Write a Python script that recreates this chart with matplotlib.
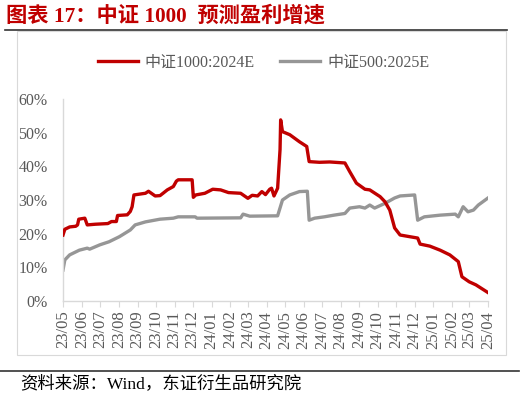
import pandas as pd
import matplotlib
matplotlib.use("Agg")
import matplotlib.pyplot as plt
import matplotlib.dates as mdates
from matplotlib.lines import Line2D
from matplotlib.patches import Rectangle

FONT = ['Liberation Serif', 'Noto Sans CJK SC']

# 中证1000:2024E, growth in %
csi1000_dates = [
    '2023-05-01', '2023-05-04', '2023-05-12', '2023-05-22', '2023-05-25', '2023-05-27',
    '2023-06-06', '2023-06-10', '2023-06-23', '2023-07-14', '2023-07-20', '2023-07-28',
    '2023-07-30', '2023-08-15', '2023-08-20', '2023-08-23', '2023-08-26', '2023-09-14',
    '2023-09-19', '2023-09-30', '2023-10-08', '2023-10-13', '2023-10-20', '2023-10-30',
    '2023-11-04', '2023-11-07', '2023-11-30', '2023-12-02', '2023-12-06', '2023-12-21',
    '2024-01-03', '2024-01-16', '2024-01-29', '2024-02-18', '2024-02-26', '2024-03-01',
    '2024-03-08', '2024-03-17', '2024-03-24', '2024-03-30', '2024-04-06', '2024-04-09',
    '2024-04-13', '2024-04-19', '2024-04-23', '2024-04-24', '2024-04-27', '2024-05-09',
    '2024-05-25', '2024-06-06', '2024-06-10', '2024-06-27', '2024-07-14', '2024-08-08',
    '2024-08-16', '2024-08-27', '2024-09-10', '2024-09-18', '2024-10-05', '2024-10-13',
    '2024-10-21', '2024-10-29', '2024-11-07', '2024-11-23', '2024-12-06', '2024-12-10',
    '2024-12-26', '2025-01-12', '2025-01-28', '2025-02-11', '2025-02-17', '2025-03-01',
    '2025-03-12', '2025-04-01',
]
csi1000_values = [
    19.6, 21.3, 22.0, 22.2, 22.6, 24.3,
    24.6, 22.6, 22.8, 23.0, 23.6, 23.6,
    25.4, 25.6, 26.6, 28.0, 31.5, 32.0,
    32.6, 31.2, 31.3, 32.0, 33.0, 34.0,
    35.6, 36.0, 36.0, 30.8, 31.5, 32.0,
    33.2, 33.0, 32.2, 32.0, 31.0, 30.5,
    31.4, 31.2, 32.5, 31.6, 33.2, 33.5,
    31.2, 33.5, 45.0, 53.8, 50.3, 49.4,
    47.3, 45.9, 41.4, 41.2, 41.3, 41.0,
    38.4, 35.0, 33.2, 33.0, 31.0, 29.5,
    27.0, 21.7, 19.6, 19.1, 18.7, 16.9,
    16.3, 15.1, 13.7, 11.7, 7.2, 5.7,
    4.8, 2.5,
]

# 中证500:2025E, growth in %
csi500_dates = [
    '2023-05-01', '2023-05-04', '2023-05-12', '2023-05-28', '2023-06-10', '2023-06-14',
    '2023-07-01', '2023-07-16', '2023-08-02', '2023-08-20', '2023-08-28', '2023-09-14',
    '2023-10-08', '2023-10-30', '2023-11-07', '2023-12-05', '2023-12-08', '2024-02-18',
    '2024-02-22', '2024-03-04', '2024-04-19', '2024-04-27', '2024-05-09', '2024-05-25',
    '2024-06-07', '2024-06-10', '2024-06-19', '2024-07-05', '2024-07-21', '2024-08-08',
    '2024-08-16', '2024-09-01', '2024-09-10', '2024-09-18', '2024-09-26', '2024-10-13',
    '2024-10-29', '2024-11-07', '2024-12-01', '2024-12-06', '2024-12-17', '2025-01-12',
    '2025-02-06', '2025-02-11', '2025-02-19', '2025-02-27', '2025-03-08', '2025-03-16',
    '2025-04-01',
]
csi500_values = [
    9.2, 12.2, 13.7, 15.1, 15.7, 15.4,
    16.7, 17.6, 19.1, 21.1, 22.6, 23.5,
    24.3, 24.6, 25.0, 25.0, 24.6, 24.7,
    25.8, 25.2, 25.3, 30.0, 31.5, 32.5,
    32.6, 24.0, 24.6, 25.0, 25.5, 26.0,
    27.6, 28.0, 27.6, 28.5, 27.6, 29.0,
    30.6, 31.2, 31.5, 24.0, 25.0, 25.5,
    25.8, 25.0, 28.0, 26.5, 27.0, 28.5,
    30.6,
]

legend_labels = ['中证1000:2024E', '中证500:2025E']
title = '图表 17：中证 1000  预测盈利增速'
source = '资料来源：Wind，东证衍生品研究院'

red = '#C00000'
grey = '#969696'
text_grey = '#595959'
axis_grey = '#D9D9D9'

fig = plt.figure(figsize=(5.22, 4.0), dpi=100)
fig.patch.set_facecolor('white')

# frame around the chart and the black rules
fig.add_artist(Rectangle((17 / 522, 1 - 355 / 400), (506 - 17) / 522, (355 - 31) / 400,
                         transform=fig.transFigure, fill=False, ec=axis_grey, lw=0.8))
fig.add_artist(Line2D([5 / 522, 507 / 522], [1 - 30 / 400] * 2, color='#333333', lw=1.2))
fig.add_artist(Line2D([0, 519 / 522], [1 - 371 / 400] * 2, color='#333333', lw=1.2))

fig.text(6 / 522, 1 - 16 / 400, title, color=red, fontsize=15.3, fontweight='bold',
         family=FONT, va='center', ha='left')
fig.text(20 / 522, 1 - 384 / 400, source, color='black', fontsize=12.5,
         family=FONT, va='center', ha='left')

ax = fig.add_axes([63 / 522, 1 - 301 / 400, (488 - 63) / 522, (301 - 99) / 400])
ax.plot(pd.to_datetime(csi1000_dates), [v / 100 for v in csi1000_values],
        color=red, lw=2.4, solid_joinstyle='round', label=legend_labels[0], zorder=3)
ax.plot(pd.to_datetime(csi500_dates), [v / 100 for v in csi500_values],
        color=grey, lw=2.4, solid_joinstyle='round', label=legend_labels[1], zorder=2)

ax.set_xlim(pd.Timestamp('2023-05-01'), pd.Timestamp('2025-04-01'))
ax.set_ylim(0, 0.6)
ax.set_yticks([i / 10 for i in range(7)])
ax.set_yticklabels([f'{i * 10}%' for i in range(7)])
ax.xaxis.set_major_locator(mdates.MonthLocator())
ax.xaxis.set_major_formatter(mdates.DateFormatter('%y/%m'))

for s in ['top', 'right']:
    ax.spines[s].set_visible(False)
for s in ['left', 'bottom']:
    ax.spines[s].set_color(axis_grey)
    ax.spines[s].set_linewidth(1.0)
ax.tick_params(axis='y', length=0, pad=11, labelsize=11.5, labelcolor=text_grey)
ax.tick_params(axis='x', length=4, width=0.8, color=axis_grey, pad=3,
               labelsize=12, labelcolor=text_grey, labelrotation=90)
for lab in ax.get_xticklabels() + ax.get_yticklabels():
    lab.set_family(FONT)

ax.legend(loc='lower center', bbox_to_anchor=(0.472, 1.07), ncol=2, frameon=False,
          prop={'family': FONT, 'size': 11.5}, labelcolor=text_grey,
          handlelength=2.5, handletextpad=0.45, columnspacing=1.6)

fig.savefig('out.png', dpi=100, facecolor='white')
